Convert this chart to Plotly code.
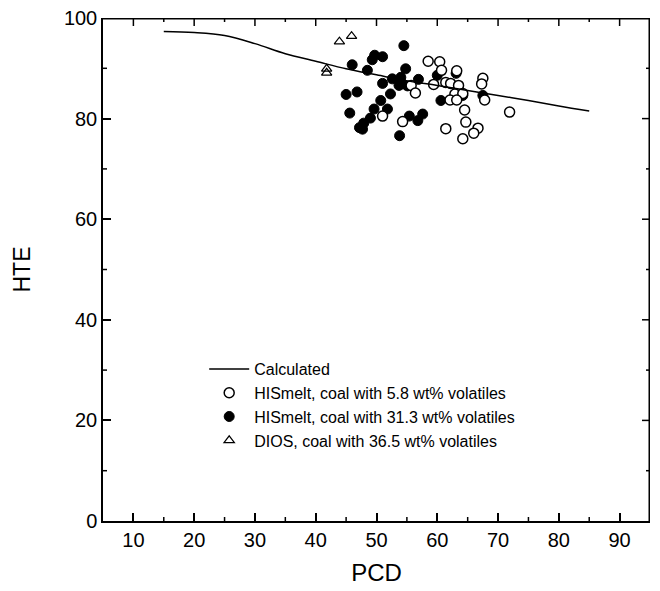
import plotly.graph_objects as go

# Calculated curve
calc_x = [15, 20, 25, 30, 35, 40, 45, 50, 55, 60, 65, 70, 75, 80, 85]
calc_y = [97.3, 97.1, 96.5, 94.9, 92.9, 91.4, 89.9, 88.7, 87.5, 86.6, 85.6, 84.6, 83.6, 82.5, 81.5]

# HISmelt, coal with 5.8 wt% volatiles (open circles)
open_x = [58.5, 60.4, 60.7, 59.4, 61.4, 62.2, 63.2, 63.5, 62.9, 64.2, 62.1, 63.2, 67.5,
          67.3, 67.8, 64.5, 64.7, 61.4, 66.7, 66.0, 64.2, 71.9, 55.7, 56.4, 51.0, 54.3]
open_y = [91.4, 91.3, 89.6, 86.8, 87.2, 87.0, 89.5, 86.6, 84.9, 85.0, 83.7, 83.7, 88.0,
          86.9, 83.7, 81.7, 79.3, 78.0, 78.1, 77.1, 76.0, 81.3, 86.6, 85.1, 80.5, 79.4]

# HISmelt, coal with 31.3 wt% volatiles (filled circles)
fill_x = [54.5, 49.7, 51.0, 49.3, 46.0, 48.5, 54.8, 51.0, 52.6, 54.0, 54.3, 56.9,
          52.3, 50.7, 49.6, 51.8, 49.0, 47.9, 47.2, 47.7, 55.4, 57.6, 56.8, 53.8,
          45.0, 46.8, 45.6, 60.0, 63.1, 64.2, 60.6, 67.5, 53.7, 55.1]
fill_y = [94.5, 92.6, 92.3, 91.7, 90.7, 89.6, 89.9, 87.0, 87.9, 88.2, 86.9, 87.8,
          84.9, 83.6, 81.9, 81.9, 80.1, 79.1, 78.2, 77.9, 80.5, 80.9, 79.6, 76.6,
          84.8, 85.3, 81.1, 88.6, 89.0, 84.6, 83.6, 84.6, 86.6, 86.5]

# DIOS, coal with 36.5 wt% volatiles (open triangles)
dios_x = [43.9, 45.9, 41.8, 41.8]
dios_y = [95.3, 96.4, 89.9, 89.1]

# axis limits and ticks
x_range = [5, 95]
y_range = [0, 100]
x_major = [10, 20, 30, 40, 50, 60, 70, 80, 90]
x_minor = [15, 25, 35, 45, 55, 65, 75, 85]
y_major = [20, 40, 60, 80]
y_minor = [10, 30, 50, 70, 90]

FONT = "Liberation Sans, Arial, sans-serif"

W, H = 652, 583
M = dict(l=95, r=10, t=10, b=70)
# pixel -> data unit factors, used for the frame ticks (8px major, 4px minor)
ux = (x_range[1] - x_range[0]) / (W - M["l"] - M["r"])
uy = (y_range[1] - y_range[0]) / (H - M["t"] - M["b"])

# top/right frame plus the mirrored and minor ticks, built as one line path
fx, fy = [x_range[0], x_range[1], x_range[1]], [y_range[1], y_range[1], y_range[0]]
fx.append(None); fy.append(None)
for vals, ln in ((x_major, 8), (x_minor, 4)):
    for v in vals:
        fx += [v, v, None]
        fy += [y_range[1], y_range[1] - ln * uy, None]
for v in x_minor:
    fx += [v, v, None]
    fy += [y_range[0], y_range[0] + 4 * uy, None]
for vals, ln in ((y_major, 8), (y_minor, 4)):
    for v in vals:
        fx += [x_range[1], x_range[1] - ln * ux, None]
        fy += [v, v, None]
for v in y_minor:
    fx += [x_range[0], x_range[0] + 4 * ux, None]
    fy += [v, v, None]

fig = go.Figure()

fig.add_trace(go.Scatter(
    x=fx, y=fy, mode="lines", showlegend=False, hoverinfo="skip",
    line=dict(color="black", width=1.5), connectgaps=False
))
fig.add_trace(go.Scatter(
    x=[x_range[0], x_range[1], x_range[1]], y=[y_range[1], y_range[1], y_range[0]],
    mode="lines", showlegend=False, hoverinfo="skip",
    line=dict(color="black", width=3)
))
fig.add_trace(go.Scatter(
    x=fill_x, y=fill_y, mode="markers",
    name="HISmelt, coal with 31.3 wt% volatiles",
    marker=dict(symbol="circle", size=10, color="black",
                line=dict(color="black", width=1)),
    legendrank=3
))
fig.add_trace(go.Scatter(
    x=open_x, y=open_y, mode="markers",
    name="HISmelt, coal with 5.8 wt% volatiles",
    marker=dict(symbol="circle", size=10, color="white",
                line=dict(color="black", width=1.5)),
    legendrank=2
))
fig.add_trace(go.Scatter(
    x=dios_x, y=dios_y, mode="markers",
    name="DIOS, coal with 36.5 wt% volatiles",
    marker=dict(symbol="triangle-up-open", size=9, color="black",
                line=dict(width=1.2)),
    legendrank=4
))
fig.add_trace(go.Scatter(
    x=calc_x, y=calc_y, mode="lines", name="Calculated",
    line=dict(color="black", width=1.5, shape="spline"),
    legendrank=1
))

axis_common = dict(
    showline=True, linecolor="black", linewidth=1.5, mirror=False,
    ticks="inside", ticklen=8, tickwidth=1.5, tickcolor="black",
    showgrid=False, zeroline=False, automargin=False,
    ticklabeloverflow="allow",
    tickfont=dict(family=FONT, size=20, color="black"),
)

# the page body adds an 8px offset, so the figure is 8px smaller than the window
fig.update_layout(
    width=W, height=H,
    paper_bgcolor="white", plot_bgcolor="white",
    margin=M,
    font=dict(family=FONT, color="black"),
    showlegend=True,
    legend=dict(
        x=0.185, y=0.336, xanchor="left", yanchor="top",
        bgcolor="rgba(0,0,0,0)", borderwidth=0,
        font=dict(family=FONT, size=16, color="black"),
        tracegroupgap=0, itemwidth=40,
    ),
    xaxis=dict(
        axis_common, range=x_range, tickvals=x_major,
        title=dict(text="PCD", font=dict(family=FONT, size=24, color="black"), standoff=14),
    ),
    yaxis=dict(
        axis_common, range=y_range, tickvals=[0] + y_major + [100],
        title=dict(text="HTE", font=dict(family=FONT, size=23, color="black"), standoff=27),
    ),
)

fig.write_html("out.html")
